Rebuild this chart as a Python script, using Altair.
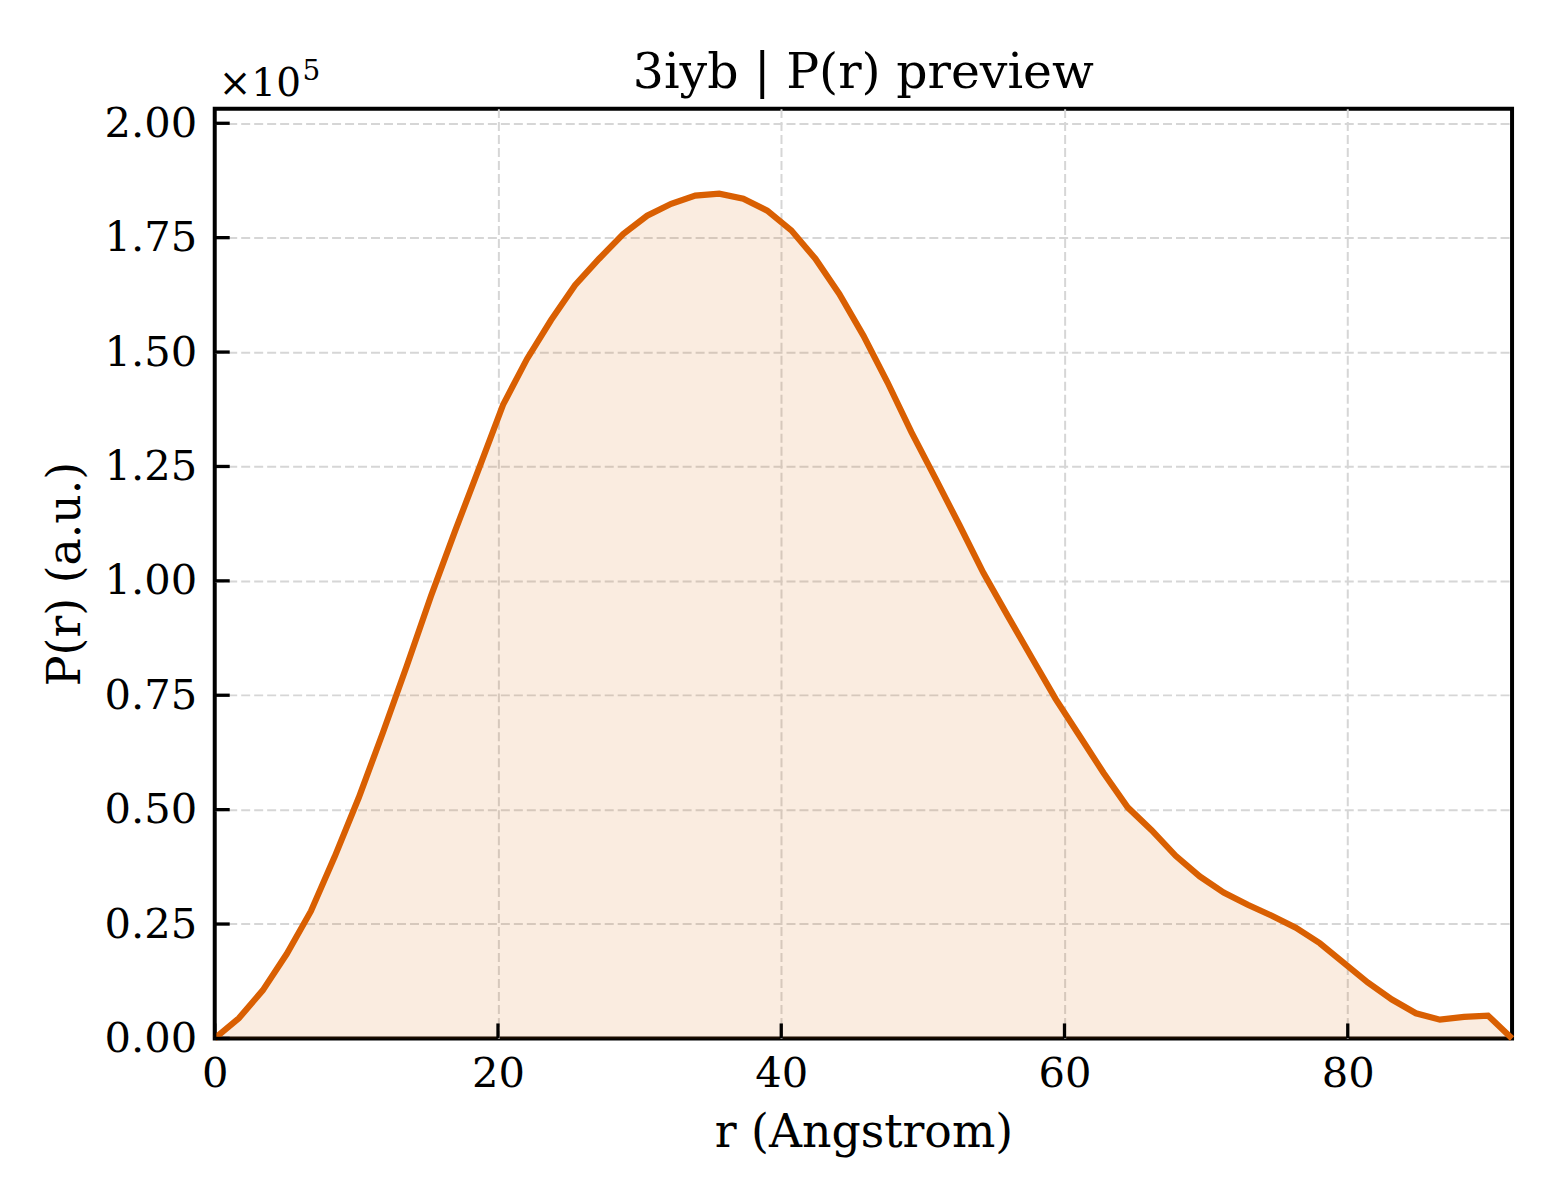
import altair as alt
import pandas as pd

# ---- data ----
r_angstrom = [0.00, 1.70, 3.39, 5.09, 6.79, 8.48, 10.18, 11.87, 13.57, 15.27,
              16.96, 18.66, 20.36, 22.05, 23.75, 25.44, 27.14, 28.84, 30.53, 32.23,
              33.93, 35.62, 37.32, 39.01, 40.71, 42.41, 44.10, 45.80, 47.50, 49.19,
              50.89, 52.58, 54.28, 55.98, 57.67, 59.37, 61.07, 62.76, 64.46, 66.15,
              67.85, 69.55, 71.24, 72.94, 74.64, 76.33, 78.03, 79.72, 81.42, 83.12,
              84.81, 86.51, 88.21, 89.90, 91.60]
p_r = [0, 4400, 10500, 18500, 27800, 39800, 52700, 66800, 81500, 96700,
       110800, 124600, 138500, 148500, 157000, 164600, 170400, 175800, 179800, 182400,
       184200, 184600, 183500, 180900, 176600, 170400, 162700, 153600, 143400, 132500,
       122400, 112200, 101700, 92400, 83300, 74200, 66100, 58000, 50500, 45500,
       39900, 35400, 31900, 29200, 26800, 24200, 20800, 16500, 12200, 8500,
       5500, 4100, 4700, 5000, 0]

x_ticks = [0, 20, 40, 60, 80]
y_ticks = [0, 25000, 50000, 75000, 100000, 125000, 150000, 175000, 200000]

title_text = "3iyb | P(r) preview"
x_title = "r (Angstrom)"
y_title = "P(r) (a.u.)"

# ---- layout ----
W, H = 1299, 931
FONT = "DejaVu Serif"
ORANGE = "#d95f02"
GRID = "#d6d6d6"

df = pd.DataFrame({"r": r_angstrom, "p": p_r})

x_scale = alt.Scale(domain=[0, 91.6], nice=False, zero=False)
y_scale = alt.Scale(domain=[0, 203200], nice=False, zero=False)

grid_opacity = alt.condition("datum.value === 0", alt.value(0), alt.value(1))

x_axis = alt.Axis(
    values=x_ticks, format="d", title=x_title,
    labelFont=FONT, labelFontSize=41.7, labelColor="black", labelPadding=15,
    labelFlush=False, labelOverlap=False,
    tickSize=0, domain=False,
    grid=True, gridDash=[9, 4], gridColor=GRID, gridWidth=2, gridOpacity=grid_opacity,
    titleFont=FONT, titleFontSize=45.8, titleFontWeight="normal", titleColor="black",
    titleY=108, titleBaseline="alphabetic",
)
y_axis = alt.Axis(
    values=y_ticks, labelExpr="format(datum.value / 100000, '.2f')", title=y_title,
    labelFont=FONT, labelFontSize=41.7, labelColor="black", labelPadding=18,
    labelFlush=False, labelOverlap=False,
    tickSize=0, domain=False,
    grid=True, gridDash=[9, 4], gridColor=GRID, gridWidth=2, gridOpacity=grid_opacity,
    titleFont=FONT, titleFontSize=45.8, titleFontWeight="normal", titleColor="black",
    titleX=-135, titleBaseline="alphabetic",
)

base = alt.Chart(df)
area = base.mark_area(color=ORANGE, opacity=0.12).encode(
    x=alt.X("r:Q", scale=x_scale, axis=x_axis),
    y=alt.Y("p:Q", scale=y_scale, axis=y_axis),
)
line = base.mark_line(color=ORANGE, strokeWidth=6.2, strokeJoin="miter").encode(
    x=alt.X("r:Q", scale=x_scale, axis=x_axis),
    y=alt.Y("p:Q", scale=y_scale, axis=y_axis),
)

xt = alt.Chart(pd.DataFrame({"t": x_ticks})).mark_rule(color="black", strokeWidth=3.3).encode(
    x=alt.X("t:Q", scale=x_scale, axis=x_axis),
    y=alt.value(H), y2=alt.value(H - 15),
)
yt = alt.Chart(pd.DataFrame({"t": y_ticks})).mark_rule(color="black", strokeWidth=3.3).encode(
    y=alt.Y("t:Q", scale=y_scale, axis=y_axis),
    x=alt.value(0), x2=alt.value(15),
)

mult = alt.Chart(pd.DataFrame({"s": ["×10"]})).mark_text(
    font=FONT, fontSize=39, align="left", baseline="alphabetic", color="black"
).encode(text="s:N", x=alt.value(4), y=alt.value(-13))
expo = alt.Chart(pd.DataFrame({"s": ["5"]})).mark_text(
    font=FONT, fontSize=28, align="left", baseline="alphabetic", color="black"
).encode(text="s:N", x=alt.value(88), y=alt.value(-29))
ttl = alt.Chart(pd.DataFrame({"s": [title_text]})).mark_text(
    font=FONT, fontSize=49, align="center", baseline="alphabetic", color="black"
).encode(text="s:N", x=alt.value(W / 2), y=alt.value(-21))

chart = alt.layer(area, line, xt, yt, mult, expo, ttl).properties(
    width=W, height=H,
    autosize=alt.AutoSizeParams(type="none"),
    padding={"left": 207, "top": 100, "right": 40, "bottom": 150},
).configure(
    background="white",
    view=alt.ViewConfig(stroke="black", strokeWidth=4),
)

chart.save("out.html", embed_options={"renderer": "svg", "actions": False})
